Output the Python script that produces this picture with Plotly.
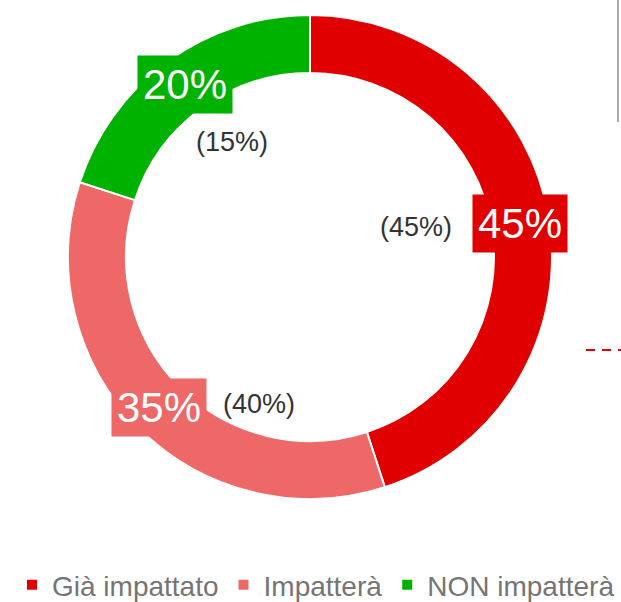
import math

import plotly.graph_objects as go

# slice data
labels = ["Già impattato", "Impatterà", "NON impatterà"]
values = [45, 35, 20]
previous = [45, 40, 15]
colors = ["#e00000", "#ee6868", "#00b200"]

W, H = 621, 602
CX, CY, R_OUT, R_IN = 310, 257, 242, 184


def fx(p):
    return p / W


def fy(p):
    return 1 - p / H


fig = go.Figure(go.Pie(
    labels=labels, values=values, hole=R_IN / R_OUT, sort=False,
    direction="clockwise", rotation=0, textinfo="none", hoverinfo="label+percent",
    marker=dict(colors=colors, line=dict(color="white", width=2)),
    domain=dict(x=[fx(CX - R_OUT), fx(CX + R_OUT)],
                y=[fy(CY + R_OUT), fy(CY - R_OUT)]),
))

# offsets (px, screen coords) of the "(previous)" labels relative to the main labels
prev_shift = [(-104, 3), (100, -4), (47, 57)]

total = sum(values)
start = 0.0
r_mid = (R_IN + R_OUT) / 2
for val, prev, col, (dx, dy) in zip(values, previous, colors, prev_shift):
    ang = math.radians((start + val / 2) / total * 360)
    start += val
    px = CX + r_mid * math.sin(ang)
    py = CY - r_mid * math.cos(ang)
    fig.add_annotation(x=fx(px), y=fy(py), xref="paper", yref="paper",
                       xanchor="center", yanchor="middle",
                       text=f"{val}%", showarrow=False, bgcolor=col,
                       font=dict(size=42, color="white"), borderpad=5)
    fig.add_annotation(x=fx(px + dx), y=fy(py + dy), xref="paper", yref="paper",
                       xanchor="center", yanchor="middle",
                       text=f"({prev}%)", showarrow=False,
                       font=dict(size=27, color="#333333"))

# bits of a neighbouring chart cut off at the right edge
fig.add_shape(type="line", xref="paper", yref="paper", x0=fx(618), x1=fx(618),
              y0=1, y1=fy(122), line=dict(color="#aaaaaa", width=2))
fig.add_shape(type="line", xref="paper", yref="paper", x0=fx(586), x1=1,
              y0=fy(350), y1=fy(350),
              line=dict(color="#e00000", width=2, dash="9px,7px"))

fig.update_layout(
    width=W, height=H, margin=dict(l=0, r=0, t=0, b=0, autoexpand=False),
    paper_bgcolor="white", plot_bgcolor="white",
    font=dict(family="Liberation Sans, Arial, sans-serif"),
    showlegend=True,
    legend=dict(orientation="h", xref="container", yref="container",
                x=fx(316), xanchor="center", y=fy(585), yanchor="middle",
                font=dict(size=28, color="#757575"), itemwidth=30),
)

fig.write_html("out.html", config={"displayModeBar": False},
               post_script="document.body.style.margin = '0';")
